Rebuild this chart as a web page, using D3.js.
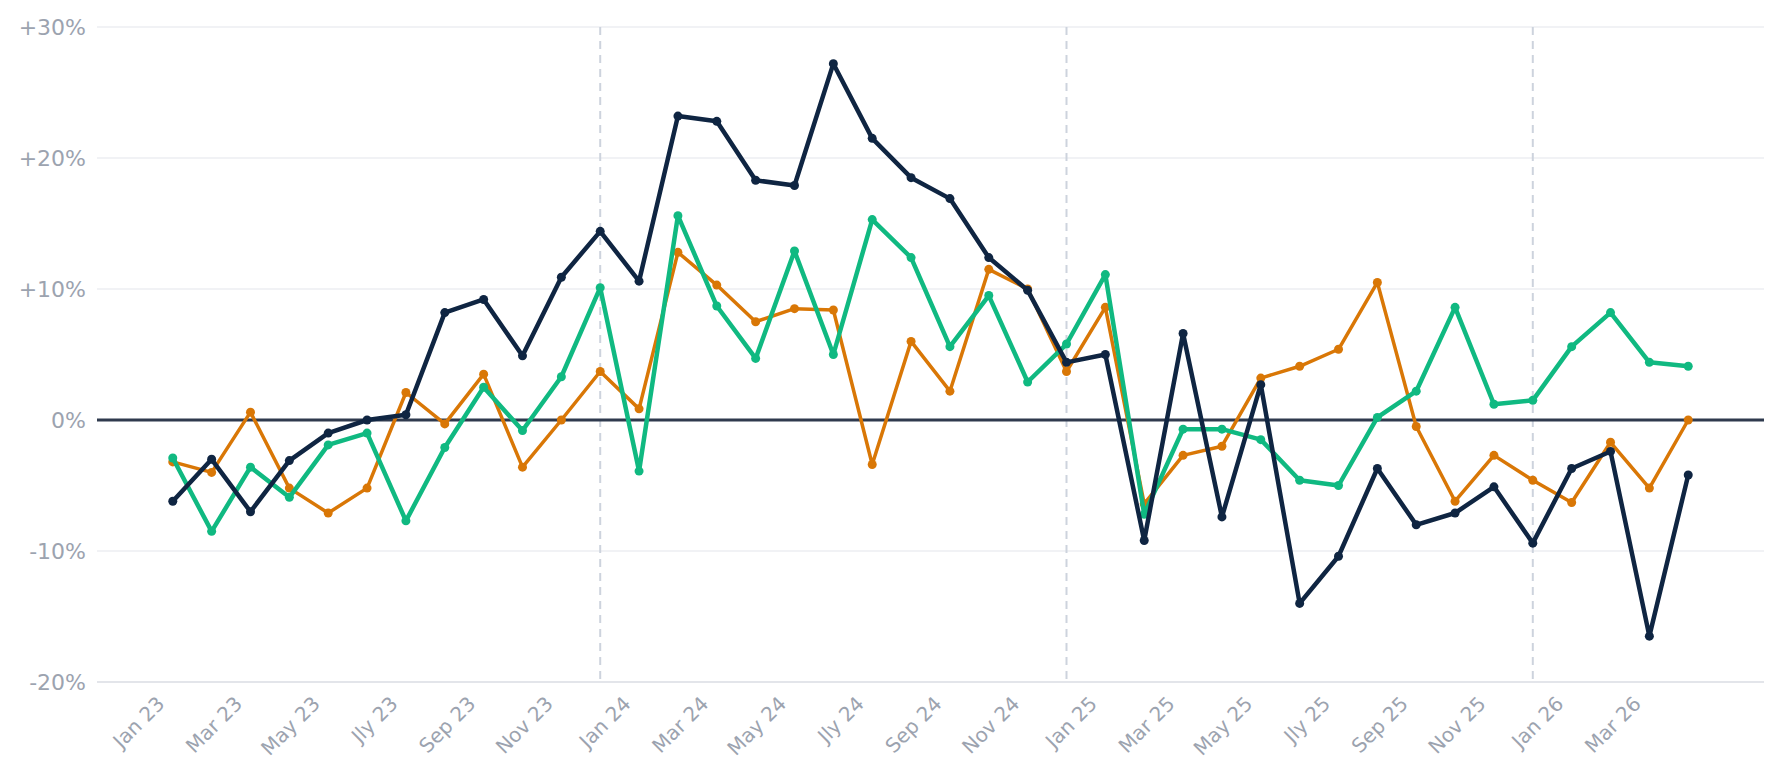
<!DOCTYPE html>
<html lang="en">
<head>
  <meta charset="UTF-8">
  <title>Monthly change</title>
  <script src="https://cdn.jsdelivr.net/npm/d3@7"></script>
  <style>
    body { margin: 0; background: #fff; }
    svg { display: block; }
    .tick-label { font-family: "DejaVu Sans", sans-serif; fill: #9ca3af; }
  </style>
</head>
<body>
  <svg id="chart" width="1781" height="774"></svg>
  <script>
    // months Jan 23 .. Apr 26
    const months = [
      'Jan 23','Feb 23','Mar 23','Apr 23','May 23','Jun 23','Jly 23','Aug 23','Sep 23','Oct 23','Nov 23','Dec 23',
      'Jan 24','Feb 24','Mar 24','Apr 24','May 24','Jun 24','Jly 24','Aug 24','Sep 24','Oct 24','Nov 24','Dec 24',
      'Jan 25','Feb 25','Mar 25','Apr 25','May 25','Jun 25','Jly 25','Aug 25','Sep 25','Oct 25','Nov 25','Dec 25',
      'Jan 26','Feb 26','Mar 26','Apr 26'
    ];

    const navySeries = [-6.2,-3.0,-7.0,-3.1,-1.0,0.0,0.4,8.2,9.2,4.9,10.9,14.4,
      10.6,23.2,22.8,18.3,17.9,27.2,21.5,18.5,16.9,12.4,9.9,4.4,
      5.0,-9.2,6.6,-7.4,2.7,-14.0,-10.4,-3.7,-8.0,-7.1,-5.1,-9.4,
      -3.7,-2.4,-16.5,-4.2];

    const greenSeries = [-2.9,-8.5,-3.6,-5.9,-1.9,-1.0,-7.7,-2.1,2.5,-0.8,3.3,10.1,
      -3.9,15.6,8.7,4.7,12.9,5.0,15.3,12.4,5.6,9.5,2.9,5.8,
      11.1,-7.2,-0.7,-0.7,-1.5,-4.6,-5.0,0.2,2.2,8.6,1.2,1.5,
      5.6,8.2,4.4,4.1];

    const orangeSeries = [-3.2,-4.0,0.6,-5.2,-7.1,-5.2,2.1,-0.3,3.5,-3.6,0.0,3.7,
      0.85,12.8,10.3,7.5,8.5,8.4,-3.4,6.0,2.2,11.5,10.0,3.7,
      8.6,-6.4,-2.7,-2.0,3.2,4.1,5.4,10.5,-0.5,-6.2,-2.7,-4.6,
      -6.3,-1.7,-5.2,0.0];

    const yTicks = [-20, -10, 0, 10, 20, 30];
    const xTickLabels = months.filter((m, i) => i % 2 === 0);
    const yearMarks = ['Dec 23', 'Dec 24', 'Dec 25'];

    const series = [
      { name: 'orange', values: orangeSeries, color: '#d97706', width: 3.5, r: 4.5 },
      { name: 'green',  values: greenSeries,  color: '#10b981', width: 4.5, r: 4.5 },
      { name: 'navy',   values: navySeries,   color: '#0f2542', width: 4.5, r: 4.5 }
    ];

    const margin = { top: 27, right: 17, bottom: 92, left: 97 };
    const width = 1781, height = 774;

    const svg = d3.select('#chart');

    const x = d3.scalePoint()
      .domain(months)
      .range([margin.left, width - margin.right])
      .padding(1.95);

    const y = d3.scaleLinear()
      .domain([-20, 30])
      .range([height - margin.bottom, margin.top]);

    const fmt = v => (v > 0 ? '+' : '') + v + '%';

    // gridlines
    svg.append('g')
      .selectAll('line')
      .data(yTicks)
      .join('line')
        .attr('x1', margin.left)
        .attr('x2', width - margin.right)
        .attr('y1', d => y(d))
        .attr('y2', d => y(d))
        .attr('stroke', d => d === -20 ? '#e3e5ea' : '#f1f2f5')
        .attr('stroke-width', 2);

    // y labels
    svg.append('g')
      .selectAll('text')
      .data(yTicks)
      .join('text')
        .attr('class', 'tick-label')
        .attr('x', margin.left - 11)
        .attr('y', d => y(d))
        .attr('dy', '0.35em')
        .attr('text-anchor', 'end')
        .style('font-size', '22px')
        .text(fmt);

    // year separators
    svg.append('g')
      .selectAll('line')
      .data(yearMarks)
      .join('line')
        .attr('x1', d => x(d))
        .attr('x2', d => x(d))
        .attr('y1', y(30))
        .attr('y2', y(-20))
        .attr('stroke', '#cdd3dd')
        .attr('stroke-width', 2)
        .attr('stroke-dasharray', '8,6');

    // zero line
    svg.append('line')
      .attr('x1', margin.left)
      .attr('x2', width - margin.right)
      .attr('y1', y(0))
      .attr('y2', y(0))
      .attr('stroke', '#2f3a4e')
      .attr('stroke-width', 3);

    // x labels
    svg.append('g')
      .selectAll('text')
      .data(xTickLabels)
      .join('text')
        .attr('class', 'tick-label')
        .attr('text-anchor', 'end')
        .attr('transform', d => `translate(${x(d) - 7},${y(-20) + 23}) rotate(-45)`)
        .style('font-size', '20px')
        .text(d => d);

    // lines + dots
    const line = d3.line()
      .x((d, i) => x(months[i]))
      .y(d => y(d));

    series.forEach(s => {
      const g = svg.append('g');
      g.append('path')
        .datum(s.values)
        .attr('fill', 'none')
        .attr('stroke', s.color)
        .attr('stroke-width', s.width)
        .attr('stroke-linejoin', 'round')
        .attr('d', line);
      g.selectAll('circle')
        .data(s.values)
        .join('circle')
          .attr('cx', (d, i) => x(months[i]))
          .attr('cy', d => y(d))
          .attr('r', s.r)
          .attr('fill', s.color);
    });
  </script>
</body>
</html>
